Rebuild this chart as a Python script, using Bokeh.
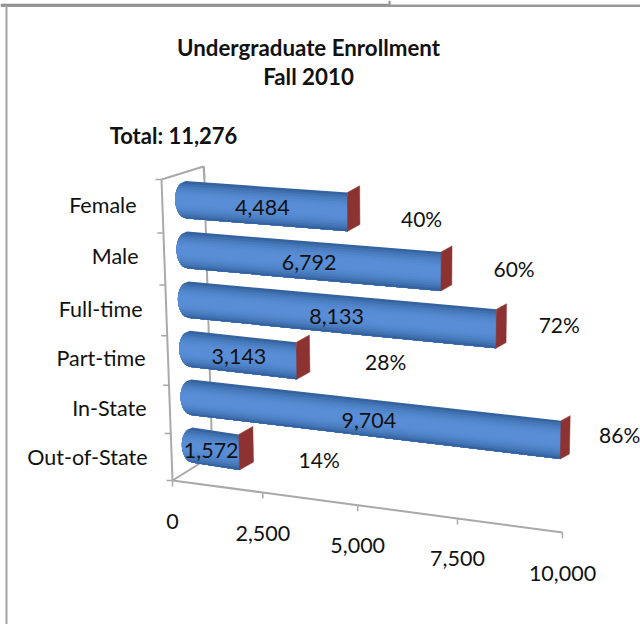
import numpy as np
from bokeh.plotting import figure
from bokeh.models import ColumnDataSource
from bokeh.core.properties import value
from bokeh.embed import file_html
from bokeh.resources import INLINE

categories = ["Female", "Male", "Full-time", "Part-time", "In-State", "Out-of-State"]
enrollment = [4484, 6792, 8133, 3143, 9704, 1572]
value_labels = ["4,484", "6,792", "8,133", "3,143", "9,704", "1,572"]
percent_labels = ["40%", "60%", "72%", "28%", "86%", "14%"]
axis_ticks = [0, 2500, 5000, 7500, 10000]
axis_tick_labels = ["0", "2,500", "5,000", "7,500", "10,000"]
title_lines = ["Undergraduate Enrollment", "Fall 2010"]
total_label = "Total: 11,276"

AXIS_MAX = 10000.0
FONT = "Lato"


def homography(c00, c10, c01, c11):
    """Perspective map of (u, w) in the unit square onto a screen quadrilateral."""
    src = [(0, 0), (1, 0), (0, 1), (1, 1)]
    dst = [c00, c10, c01, c11]
    A, b = [], []
    for (u, w), (x, y) in zip(src, dst):
        A.append([u, w, 1, 0, 0, 0, -u * x, -w * x])
        A.append([0, 0, 0, u, w, 1, -u * y, -w * y])
        b += [x, y]
    h = np.linalg.solve(np.array(A, float), np.array(b, float))
    H = np.append(h, 1).reshape(3, 3)

    def f(u, w):
        q = H @ np.array([u, w, 1.0])
        return q[0] / q[2], q[1] / q[2]
    return f


# box planes of the 3-D scene, as seen on screen
front = homography((182, 468.5), (571, 518), (174, 174), (578, 200))
back = homography((197, 460), (580, 513), (189, 166), (587, 195))
axis_floor = homography((172, 480), (562, 532), (161, 179), (585, 201))

p = figure(width=640, height=624, x_range=(0, 640), y_range=(624, 0),
           output_backend="svg", toolbar_location=None, min_border=0,
           outline_line_color=None)
p.xaxis.visible = False
p.yaxis.visible = False
p.grid.visible = False

# page frame
p.line([0, 640], [5.2, 5.2], line_color="#999999", line_width=2.5)
p.line([6, 6], [4, 624], line_color="#a3a3a3", line_width=2)
p.line([0, 388], [4, 4], line_color="#8f8f8f", line_width=1.5)
p.line([389, 389], [0, 5], line_color="#8f8f8f", line_width=2)

AX = "#a9a9a9"
# walls
p.line([161, 203, 204], [179, 166, 178], line_color=AX, line_width=2)
p.line([203.5, 212], [166, 465], line_color=AX, line_width=2)
p.line([172, 212], [480, 455], line_color=AX, line_width=2)
# category spine and ticks
sx, sy = [], []
for i in range(7):
    sx.append(axis_floor(0, i / 6)[0])
    sy.append(axis_floor(0, i / 6)[1])
p.line(sx, sy, line_color=AX, line_width=2)
for x, y in zip(sx, sy):
    p.line([x - 6, x], [y, y], line_color=AX, line_width=1.5)
# value axis and ticks
tx, ty = [], []
for t in axis_ticks:
    x, y = axis_floor(t / AXIS_MAX, 0)
    tx.append(x)
    ty.append(y)
p.line(tx, ty, line_color=AX, line_width=2)
for x, y in zip(tx, ty):
    p.line([x, x], [y, y + 6], line_color=AX, line_width=1.5)

LIGHT = np.array([0x5a, 0x8f, 0xd8], float)
DARK = np.array([0x2e, 0x5c, 0x96], float)
N = 16
BAR_HALF = 0.37
RED = "#8c3230"

for i, (cat, v) in enumerate(zip(categories, enrollment)):
    wc = (5.5 - i) / 6
    wh = BAR_HALF / 6
    uend = v / AXIS_MAX
    for k in range(N):
        # each strip runs on to the bar's lower edge, so no seams show
        s0 = k / N
        sm = (k + 0.5) / N
        w0 = wc + wh * (1 - 2 * s0)
        w1 = wc - wh
        sh = 1 - abs(2 * sm - 1.0) ** 2.4
        col = DARK + (LIGHT - DARK) * sh
        color = "#%02x%02x%02x" % tuple(int(c) for c in col)
        r = 11.0
        ys = np.linspace(s0, 1.0, 2 + (N - k))
        left = [front(0, wc + wh * (1 - 2 * s)) for s in ys]
        lx = [q[0] + r * (1 - np.sqrt(max(0, 1 - (2 * s - 1) ** 2))) for q, s in zip(left, ys)]
        ly = [q[1] for q in left]
        b = front(uend, w0)
        c = front(uend, w1)
        p.patch(lx + [c[0], b[0]], ly + [c[1], b[1]],
                fill_color=color, line_color=None)
    top, bot = wc + wh, wc - wh
    f_t, f_b = front(uend, top), front(uend, bot)
    b_t, b_b = back(uend, top), back(uend, bot)
    p.patch([f_t[0], b_t[0], b_b[0], f_b[0]], [f_t[1], b_t[1], b_b[1], f_b[1]],
            fill_color=RED, line_color=RED, line_width=0.5)

TXT = "#111111"


def texts(xs, ys, labels, size="21.5px", style="normal", align="center"):
    src = ColumnDataSource(dict(x=xs, y=ys, t=labels))
    p.text("x", "y", text="t", source=src, text_font=value(FONT),
           text_font_size=value(size), text_font_style=value(style),
           text_color=TXT, text_align=value(align), text_baseline=value("middle"))


# value labels, in the middle of each bar
vx, vy = [], []
for i, v in enumerate(enrollment):
    x, y = front(v / AXIS_MAX * 0.515, (5.5 - i) / 6)
    vx.append(x)
    vy.append(y + 2)
texts(vx, vy, value_labels)

# percentage labels beyond each bar's end
pct_gap_x = [74, 73, 63, 89, 59, 80]
pct_gap_y = [7, -3, -4, 1, -5, 7]
px, py = [], []
for i, v in enumerate(enrollment):
    x, y = front(v / AXIS_MAX, (5.5 - i) / 6)
    px.append(x + pct_gap_x[i])
    py.append(y + pct_gap_y[i])
texts(px, py, percent_labels, size="21px")

# category labels
cat_right = [136, 138, 142, 145, 146, 147]
cat_y = [204, 255, 308, 357, 407, 456]
texts(cat_right, cat_y, categories, align="right")

# value axis labels
texts(tx, [y + 40.5 for y in ty], axis_tick_labels)

# headings
texts([308, 308], [47, 76], title_lines, size="22.3px", style="bold")
texts([173], [135], [total_label], size="22px", style="bold")

open("out.html", "w").write(file_html(p, INLINE))
